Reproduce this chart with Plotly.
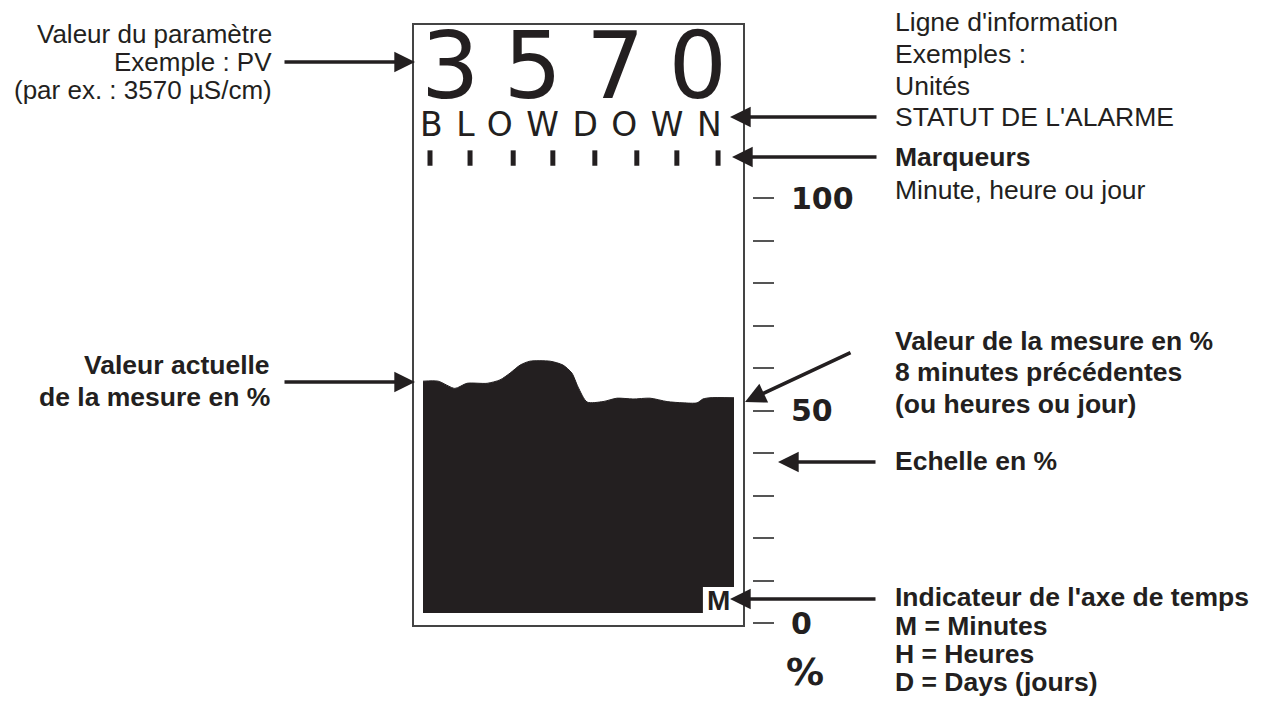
import plotly.graph_objects as go

W, H = 1271, 704
INK = "#231f20"

# ---- data ----
# time axis: minutes back from the current value (left edge = now)
profile_minutes = [0, 0.39, 0.82, 1.13, 1.65, 1.98, 2.24, 2.50, 2.75, 3.27, 3.60,
                   3.83, 3.99, 4.22, 4.63, 4.99, 5.40, 5.84, 6.28, 6.69, 7.05,
                   7.20, 7.38, 8.0]
profile_percent = [56.9, 56.9, 55.2, 56.4, 56.4, 57.2, 58.8, 60.7, 61.6, 61.6, 60.7,
                   58.8, 55.5, 52.0, 52.1, 52.9, 52.7, 52.9, 52.1, 51.8, 51.8,
                   52.7, 53.0, 53.0]
# bottom of the trend area with the notch used by the time-axis indicator "M"
floor_minutes = [0, 7.20, 7.20, 8.0]
floor_percent = [2.35, 2.35, 8.47, 8.47]
# minute markers
marker_minutes = [0.18, 1.21, 2.32, 3.34, 4.42, 5.50, 6.53, 7.59]
marker_level = [109.4] * len(marker_minutes)

scale_ticks = list(range(0, 101, 10))
scale_labels = ["0", "", "", "", "", "50", "", "", "", "", "100"]

pv_value = "3570"
info_line = "BLOWDOWN"
time_indicator = "M"

# ---- pixel helpers for layout (annotations / frame) ----
def X(px):
    return px / W

def Y(py):
    return 1 - py / H

# axis calibration: t=0 at x=423px, t=8 at x=734px ; 0% at y=623px, 100% at y=198px
PX_PER_MIN = (734 - 423) / 8
PX_PER_PCT = (623 - 198) / 100
x_range = [-423 / PX_PER_MIN, (W - 423) / PX_PER_MIN]
y_range = [(623 - H) / PX_PER_PCT, 623 / PX_PER_PCT]

fig = go.Figure()
fig.add_trace(go.Scatter(x=floor_minutes, y=floor_percent, mode="lines",
                         line=dict(width=0, color=INK), hoverinfo="skip",
                         showlegend=False))
fig.add_trace(go.Scatter(x=profile_minutes, y=profile_percent, mode="lines",
                         line=dict(width=1, color=INK, shape="spline", smoothing=0.7),
                         fill="tonexty", fillcolor=INK, hoverinfo="skip",
                         showlegend=False))
fig.add_trace(go.Scatter(x=marker_minutes, y=marker_level, mode="markers",
                         marker=dict(symbol="line-ns", size=11,
                                     line=dict(width=5, color=INK)),
                         hoverinfo="skip", showlegend=False))

shapes = [dict(type="rect", xref="paper", yref="paper",
               x0=X(413), x1=X(744), y0=Y(24), y1=Y(626),
               line=dict(color="#444", width=2), fillcolor="rgba(0,0,0,0)")]

ann = []
REG = "Liberation Sans, Arial, sans-serif"
RS = 26.5   # regular note size
BS = 26.5   # bold note size

def text(px, py, s, anchor="left", size=RS, bold=False, family=REG):
    ann.append(dict(x=X(px), y=Y(py), xref="paper", yref="paper", text=s,
                    showarrow=False, xanchor=anchor, yanchor="middle",
                    borderpad=0, borderwidth=0,
                    font=dict(family=family, size=size, color=INK,
                              weight="bold" if bold else "normal")))

def arrow(tail, tip):
    ann.append(dict(x=X(tip[0]), y=Y(tip[1]), xref="paper", yref="paper", text="",
                    showarrow=True, ax=tail[0] - tip[0], ay=tail[1] - tip[1],
                    arrowhead=2, arrowsize=1.15, arrowwidth=3.6, arrowcolor=INK,
                    standoff=0, startstandoff=0))

# display content
ann.append(dict(x=X(421), y=Y(66), xref="paper", yref="paper",
                text='<span style="letter-spacing:24px">' + pv_value + '</span>',
                showarrow=False, xanchor="left", yanchor="middle",
                borderpad=0, borderwidth=0,
                font=dict(family="DejaVu Sans", size=92, color=INK)))
ann.append(dict(x=X(420), y=Y(125), xref="paper", yref="paper",
                text='<span style="letter-spacing:13.5px">' + info_line + '</span>',
                showarrow=False, xanchor="left", yanchor="middle",
                borderpad=0, borderwidth=0,
                font=dict(family="DejaVu Sans", size=33, color=INK)))
text(718, 600, time_indicator, anchor="center", size=28, bold=True,
     family="Liberation Sans Narrow, Arial Narrow, sans-serif")
text(786, 672, "%", size=38, bold=True, family="DejaVu Sans")

# left notes
text(272, 34, "Valeur du paramètre", anchor="right", size=26)
text(272, 62, "Exemple : PV", anchor="right", size=26)
text(272, 90, "(par ex. : 3570 µS/cm)", anchor="right", size=26)
arrow((283, 62), (415, 62))

text(270, 365, "Valeur actuelle", anchor="right", size=BS, bold=True)
text(270, 397, "de la mesure en %", anchor="right", size=BS, bold=True)
arrow((283, 382), (415, 382))

# right notes
text(895, 22, "Ligne d'information")
text(895, 54, "Exemples :")
text(895, 86, "Unités")
text(895, 117, "STATUT DE L'ALARME")
arrow((878, 117), (730, 117))

text(895, 157, "Marqueurs", size=BS, bold=True)
text(895, 190, "Minute, heure ou jour")
arrow((878, 157), (732, 157))

text(895, 341, "Valeur de la mesure en %", size=BS, bold=True)
text(895, 372, "8 minutes précédentes", size=BS, bold=True)
text(895, 404, "(ou heures ou jour)", size=BS, bold=True)
arrow((852, 352), (745, 402))

text(895, 461, "Echelle en %", size=BS, bold=True)
arrow((877, 462), (778, 462))

text(895, 597, "Indicateur de l'axe de temps", size=BS, bold=True)
text(895, 626, "M = Minutes", size=BS, bold=True)
text(895, 654, "H = Heures", size=BS, bold=True)
text(895, 682, "D = Days (jours)", size=BS, bold=True)
arrow((877, 599), (730, 599))

fig.update_layout(
    width=W, height=H, margin=dict(l=0, r=0, t=0, b=0),
    paper_bgcolor="white", plot_bgcolor="white",
    showlegend=False, shapes=shapes, annotations=ann,
    xaxis=dict(range=x_range, visible=False, fixedrange=True),
    yaxis=dict(range=y_range, side="right", anchor="free", position=752 / W,
               showgrid=False, zeroline=False, showline=False,
               ticks="outside", ticklen=21, tickwidth=2, tickcolor="#555",
               tickvals=scale_ticks, ticktext=scale_labels,
               tickfont=dict(family="DejaVu Sans", size=30, color=INK, weight="bold"),
               ticklabelstandoff=11, fixedrange=True),
)
fig.write_html("out.html", config={"displayModeBar": False},
               post_script="document.body.style.margin='0';"
                           "document.body.style.overflow='hidden';")
